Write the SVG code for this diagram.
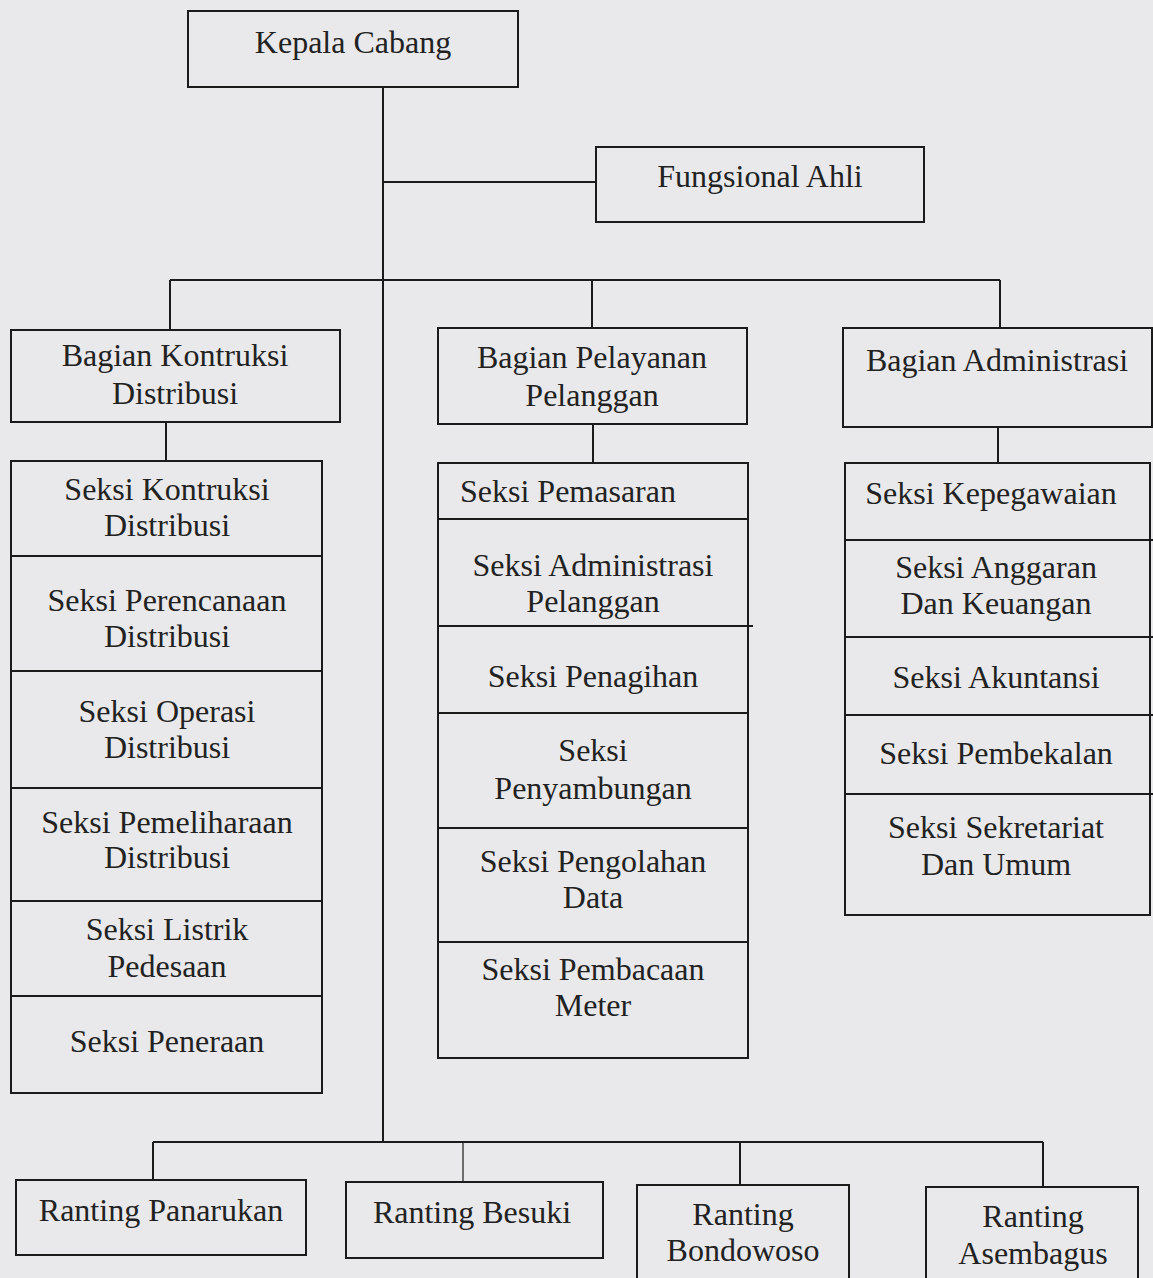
<svg xmlns="http://www.w3.org/2000/svg" width="1153" height="1278" viewBox="0 0 1153 1278">
<style>
rect.b{fill:none;stroke:#1b1b1b;stroke-width:2}
line{stroke:#1b1b1b;stroke-width:2}
text{font-family:"Liberation Serif","Times New Roman",serif;font-size:32px;fill:#222;text-anchor:middle}
</style>
<rect width="1153" height="1278" fill="#e9e9eb"/>
<g id="connectors">
<line x1="383" y1="87" x2="383" y2="1142"/>
<line x1="383" y1="182" x2="596" y2="182"/>
<line x1="170" y1="280" x2="1000" y2="280"/>
<line x1="170" y1="280" x2="170" y2="330"/>
<line x1="592" y1="280" x2="592" y2="328"/>
<line x1="1000" y1="280" x2="1000" y2="328"/>
<line x1="166" y1="422" x2="166" y2="461"/>
<line x1="593" y1="424" x2="593" y2="463"/>
<line x1="998" y1="427" x2="998" y2="463"/>
<line x1="153" y1="1142" x2="1043" y2="1142"/>
<line x1="153" y1="1142" x2="153" y2="1180"/>
<line x1="463" y1="1142" x2="463" y2="1182" style="stroke-width:1.2"/>
<line x1="740" y1="1142" x2="740" y2="1185"/>
<line x1="1043" y1="1142" x2="1043" y2="1187"/>
</g>
<g id="kepala-cabang"><rect class="b" x="188" y="11" width="330" height="76"/><text x="353" y="53">Kepala Cabang</text></g>
<g id="fungsional-ahli"><rect class="b" x="596" y="147" width="328" height="75"/><text x="760" y="187">Fungsional Ahli</text></g>
<g id="bagian-kontruksi"><rect class="b" x="11" y="330" width="329" height="92"/><text x="175" y="366">Bagian Kontruksi</text><text x="175" y="404">Distribusi</text></g>
<g id="bagian-pelayanan"><rect class="b" x="438" y="328" width="309" height="96"/><text x="592" y="368">Bagian Pelayanan</text><text x="592" y="406">Pelanggan</text></g>
<g id="bagian-administrasi"><rect class="b" x="843" y="328" width="309" height="99"/><text x="997" y="371">Bagian Administrasi</text></g>
<g id="seksi-kontruksi-col">
<rect class="b" x="11" y="461" width="311" height="632"/>
<line x1="11" y1="556" x2="322" y2="556"/>
<line x1="11" y1="671" x2="322" y2="671"/>
<line x1="11" y1="788" x2="322" y2="788"/>
<line x1="11" y1="901" x2="322" y2="901"/>
<line x1="11" y1="996" x2="322" y2="996"/>
<text x="167" y="500">Seksi Kontruksi</text><text x="167" y="536">Distribusi</text>
<text x="167" y="611">Seksi Perencanaan</text><text x="167" y="647">Distribusi</text>
<text x="167" y="722">Seksi Operasi</text><text x="167" y="758">Distribusi</text>
<text x="167" y="833">Seksi Pemeliharaan</text><text x="167" y="868">Distribusi</text>
<text x="167" y="940">Seksi Listrik</text><text x="167" y="977">Pedesaan</text>
<text x="167" y="1052">Seksi Peneraan</text>
</g>
<g id="seksi-pelayanan-col">
<rect class="b" x="438" y="463" width="310" height="595"/>
<line x1="438" y1="519" x2="748" y2="519"/>
<line x1="438" y1="626" x2="753" y2="626"/>
<line x1="438" y1="713" x2="748" y2="713"/>
<line x1="438" y1="828" x2="748" y2="828"/>
<line x1="438" y1="942" x2="748" y2="942"/>
<text x="568" y="502">Seksi Pemasaran</text>
<text x="593" y="576">Seksi Administrasi</text><text x="593" y="612">Pelanggan</text>
<text x="593" y="687">Seksi Penagihan</text>
<text x="593" y="761">Seksi</text><text x="593" y="799">Penyambungan</text>
<text x="593" y="872">Seksi Pengolahan</text><text x="593" y="908">Data</text>
<text x="593" y="980">Seksi Pembacaan</text><text x="593" y="1016">Meter</text>
</g>
<g id="seksi-administrasi-col">
<rect class="b" x="845" y="463" width="305" height="452"/>
<line x1="845" y1="540" x2="1153" y2="540"/>
<line x1="845" y1="637" x2="1153" y2="637"/>
<line x1="845" y1="715" x2="1153" y2="715"/>
<line x1="845" y1="794" x2="1153" y2="794"/>
<text x="991" y="504">Seksi Kepegawaian</text>
<text x="996" y="578">Seksi Anggaran</text><text x="996" y="614">Dan Keuangan</text>
<text x="996" y="688">Seksi Akuntansi</text>
<text x="996" y="764">Seksi Pembekalan</text>
<text x="996" y="838">Seksi Sekretariat</text><text x="996" y="875">Dan Umum</text>
</g>
<g id="ranting-panarukan"><rect class="b" x="16" y="1180" width="290" height="75"/><text x="161" y="1221">Ranting Panarukan</text></g>
<g id="ranting-besuki"><rect class="b" x="346" y="1182" width="257" height="76"/><text x="472" y="1223">Ranting Besuki</text></g>
<g id="ranting-bondowoso"><rect class="b" x="637" y="1185" width="212" height="100"/><text x="743" y="1225">Ranting</text><text x="743" y="1261">Bondowoso</text></g>
<g id="ranting-asembagus"><rect class="b" x="926" y="1187" width="212" height="100"/><text x="1033" y="1227">Ranting</text><text x="1033" y="1264">Asembagus</text></g>
</svg>
